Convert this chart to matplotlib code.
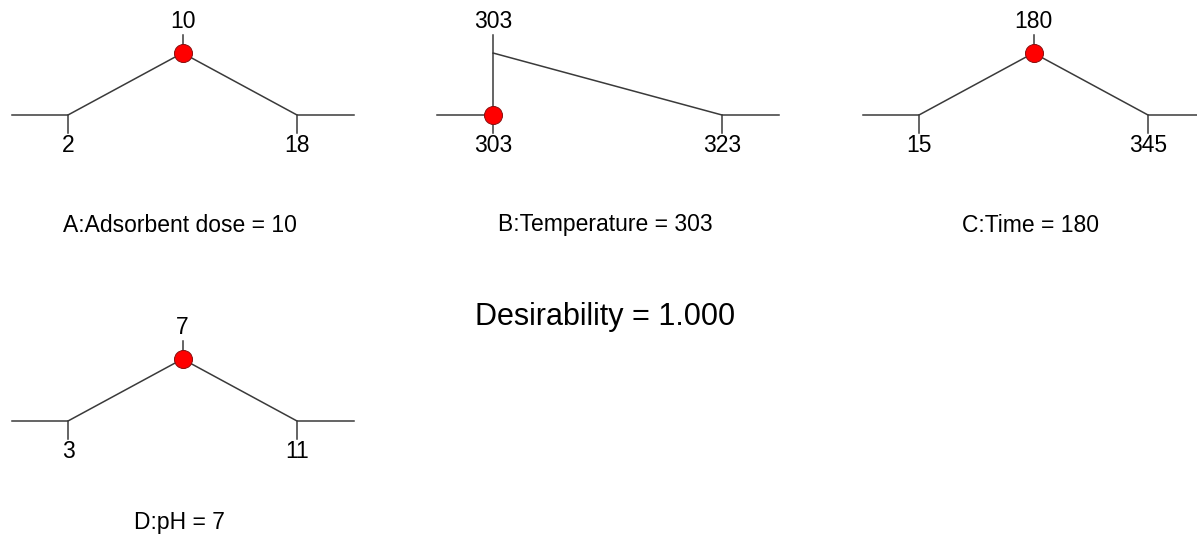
import matplotlib
matplotlib.use("Agg")
import matplotlib.pyplot as plt

plt.rcParams['font.family'] = ['Liberation Sans', 'DejaVu Sans']

# desirability ramps (Design-Expert style)
factors = ["A:Adsorbent dose", "B:Temperature", "C:Time", "D:pH"]
low = [2, 303, 15, 3]
high = [18, 323, 345, 11]
target = [10, 303, 180, 7]
setting = [10, 303, 180, 7]
dot_level = [1, 0, 1, 1]
desirability = 1.000

W, H = 1197, 546
fig = plt.figure(figsize=(W / 100, H / 100), dpi=100)

# layout in pixels: x of low end, y of baseline, title offset below baseline
low_px = [68, 493, 919, 68]
base_px = [115, 115, 115, 421]
title_off = [110, 110, 110, 102]
span_px = 229
pad_l, pad_r = 56, 57
ramp_h = 62
line_c = "#3a3a3a"

for i in range(4):
    span = high[i] - low[i]
    x0 = low[i] - pad_l / span_px * span
    x1 = high[i] + pad_r / span_px * span
    rect = [(low_px[i] - pad_l) / W, (H - base_px[i]) / H,
            (span_px + pad_l + pad_r) / W, ramp_h / H]
    ax = fig.add_axes(rect)
    ax.set_xlim(x0, x1)
    ax.set_ylim(0, 1)
    ax.axis("off")

    px = 1 / ramp_h
    xs = [x0, low[i], target[i], high[i], x1]
    ys = [0, 0, 1, 0, 0]
    ax.plot(xs, ys, color=line_c, lw=1.1, clip_on=False)
    # bottom ticks at low/high, top tick at current setting
    for v in (low[i], high[i]):
        ax.plot([v, v], [0, -18 * px], color=line_c, lw=1.1, clip_on=False)
    ax.plot([setting[i], setting[i]], [1, 1 + 18 * px], color=line_c, lw=1.1, clip_on=False)
    ax.plot([setting[i]], [dot_level[i]], "o", ms=13, mfc="#ff0000",
            mec="#8a1010", mew=0.7, clip_on=False, zorder=5)

    kw = dict(textcoords="offset pixels", ha="center", va="center",
              annotation_clip=False)
    ax.annotate(f"{setting[i]}", (setting[i], 1), xytext=(0, 32), fontsize=16.5, **kw)
    ax.annotate(f"{low[i]}", (low[i], 0), xytext=(0, -30), fontsize=16.5, **kw)
    ax.annotate(f"{high[i]}", (high[i], 0), xytext=(0, -30), fontsize=16.5, **kw)
    cx = (low[i] + high[i]) / 2 if i != 1 else (x0 + x1) / 2
    ax.annotate(f"{factors[i]} = {setting[i]}", (cx, 0),
                xytext=(-3, -title_off[i]), fontsize=16.5, **kw)

fig.text(605 / W, 1 - 317 / H, f"Desirability = {desirability:.3f}",
         ha="center", va="center", fontsize=22)

fig.savefig("out.png", dpi=100, facecolor="white")
